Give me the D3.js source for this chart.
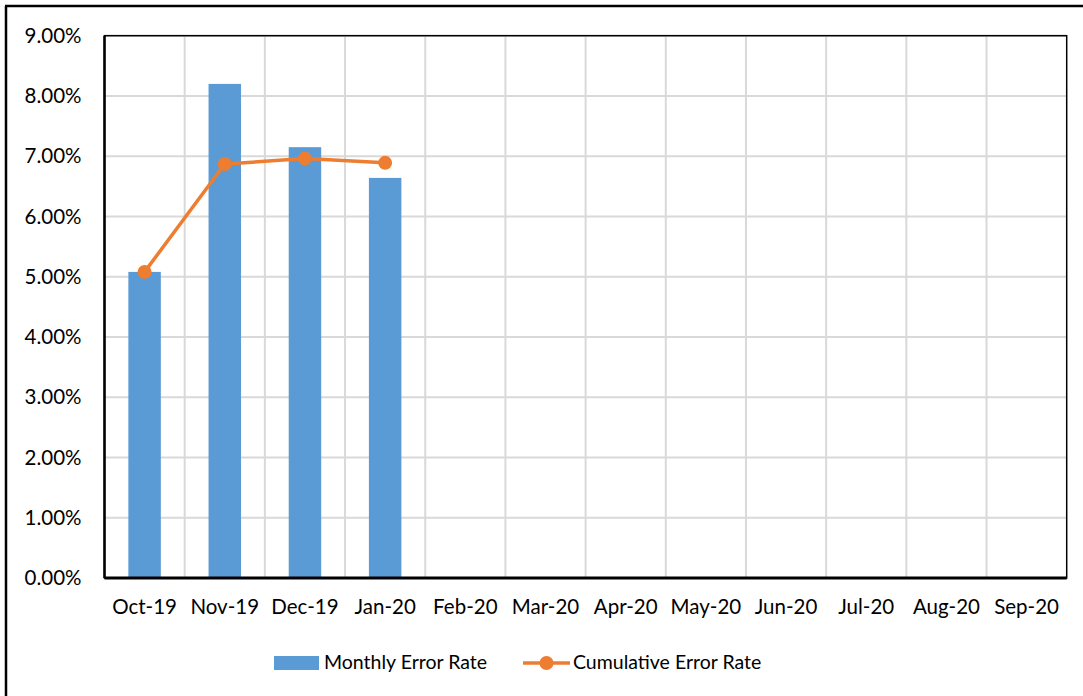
<!DOCTYPE html>
<html><head><meta charset="utf-8">
<script src="https://cdn.jsdelivr.net/npm/d3@7"></script>
<style>body{margin:0;background:#fff}svg{display:block}text{font-family:Lato,"Open Sans",sans-serif;fill:#000}</style>
</head><body>
<svg id="c" width="1083" height="696"></svg>
<script>
const categories = ["Oct-19","Nov-19","Dec-19","Jan-20","Feb-20","Mar-20","Apr-20","May-20","Jun-20","Jul-20","Aug-20","Sep-20"];
const monthlyErrorRate = [0.0508, 0.0820, 0.0715, 0.0664, null, null, null, null, null, null, null, null];
const cumulativeErrorRate = [0.0508, 0.0687, 0.0696, 0.0689, null, null, null, null, null, null, null, null];
const yTicks = [0,0.01,0.02,0.03,0.04,0.05,0.06,0.07,0.08,0.09];
const seriesNames = ["Monthly Error Rate","Cumulative Error Rate"];

const svg = d3.select("#c");
const L=104.5, T=35.7, R=1066.7, B=578;
const x = d3.scaleBand().domain(categories).range([L,R]).paddingInner(0).paddingOuter(0);
const y = d3.scaleLinear().domain([0,0.09]).range([B,T]);

// outer chart frame (partially visible)
svg.append("line").attr("x1",6).attr("x2",6).attr("y1",6).attr("y2",696).attr("stroke","#000").attr("stroke-width",2.5);
svg.append("line").attr("x1",5).attr("x2",1083).attr("y1",6).attr("y2",6).attr("stroke","#000").attr("stroke-width",2.5);

// gridlines
const g = svg.append("g");
g.selectAll(".hg").data(yTicks).join("line")
  .attr("x1",L).attr("x2",R).attr("y1",d=>y(d)).attr("y2",d=>y(d))
  .attr("stroke","#d9d9d9").attr("stroke-width",2);
g.selectAll(".vg").data(categories.slice(1)).join("line")
  .attr("x1",d=>x(d)).attr("x2",d=>x(d)).attr("y1",T).attr("y2",B)
  .attr("stroke","#d9d9d9").attr("stroke-width",2);

// bars
const bw = x.bandwidth()*0.405;
svg.selectAll(".bar").data(categories.map((c,i)=>({c,v:monthlyErrorRate[i]})).filter(d=>d.v!=null)).join("rect")
  .attr("x",d=>x(d.c)+x.bandwidth()/2-bw/2).attr("width",bw)
  .attr("y",d=>y(d.v)).attr("height",d=>B-y(d.v)).attr("fill","#5B9BD5");

// plot border
svg.append("rect").attr("x",L).attr("y",T).attr("width",R-L).attr("height",B-T)
  .attr("fill","none").attr("stroke","#000").attr("stroke-width",1.5);
svg.append("line").attr("x1",L).attr("x2",L).attr("y1",T).attr("y2",B).attr("stroke","#000").attr("stroke-width",2.5);
svg.append("line").attr("x1",L).attr("x2",R).attr("y1",B).attr("y2",B).attr("stroke","#000").attr("stroke-width",3);

// line
const cum = categories.map((c,i)=>({c,v:cumulativeErrorRate[i]})).filter(d=>d.v!=null);
svg.append("path").datum(cum)
  .attr("d",d3.line().x(d=>x(d.c)+x.bandwidth()/2).y(d=>y(d.v)))
  .attr("fill","none").attr("stroke","#ED7D31").attr("stroke-width",3.5).attr("stroke-linejoin","round");
svg.selectAll(".dot").data(cum).join("circle")
  .attr("cx",d=>x(d.c)+x.bandwidth()/2).attr("cy",d=>y(d.v)).attr("r",7).attr("fill","#ED7D31");

// y axis labels
const yAxis = d3.axisLeft(y).tickValues(yTicks).tickFormat(d3.format(".2%")).tickSize(0).tickPadding(23);
const ya = svg.append("g").attr("transform",`translate(${L},0)`).call(yAxis);
ya.select(".domain").remove();
ya.selectAll("text").attr("font-size",20.5).attr("font-family","Lato,sans-serif").attr("fill","#000");

// x axis labels
const xAxis = d3.axisBottom(x).tickSize(0).tickPadding(21);
const xa = svg.append("g").attr("transform",`translate(0,${B})`).call(xAxis);
xa.select(".domain").remove();
xa.selectAll("text").attr("font-size",20.5).attr("font-family","Lato,sans-serif").attr("fill","#000");

// legend
const lg = svg.append("g");
lg.append("rect").attr("x",274).attr("y",656).attr("width",45).attr("height",14).attr("fill","#5B9BD5");
lg.append("text").attr("x",324).attr("y",669).attr("font-size",19.5).text(seriesNames[0]);
lg.append("line").attr("x1",523).attr("x2",570).attr("y1",663).attr("y2",663).attr("stroke","#ED7D31").attr("stroke-width",3.5);
lg.append("circle").attr("cx",546.5).attr("cy",663).attr("r",7).attr("fill","#ED7D31");
lg.append("text").attr("x",573).attr("y",669).attr("font-size",19.5).text(seriesNames[1]);
</script>
</body></html>
